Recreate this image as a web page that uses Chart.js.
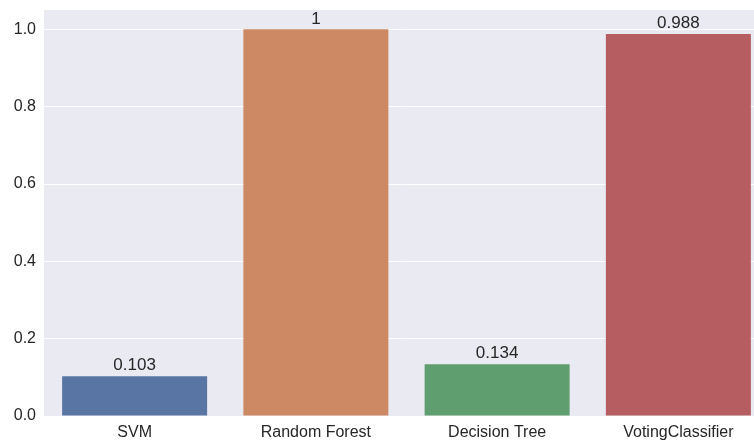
<!DOCTYPE html>
<html>
<head>
<meta charset="utf-8">
<script src="https://cdn.jsdelivr.net/npm/chart.js@4"></script>
<style>
    html, body { margin: 0; padding: 0; background: #ffffff; overflow: hidden; }
    #wrap { width: 770px; height: 444px; }
</style>
</head>
<body>
<div id="wrap"><canvas id="scoreChart" width="770" height="444"></canvas></div>
<script>
const models = ['SVM', 'Random Forest', 'Decision Tree', 'VotingClassifier'];
const scores = [0.103, 1, 0.134, 0.988];
const scoreLabels = ['0.103', '1', '0.134', '0.988'];
const barColors = ['#5975a4', '#cc8963', '#5f9e6e', '#b55d60'];
const yTicks = [0, 0.2, 0.4, 0.6, 0.8, 1.0];

const fontFamily = "'Liberation Sans', Arial, sans-serif";
const textColor = '#262626';

// seaborn-like grey panel behind the bars
const panelBackground = {
    id: 'panelBackground',
    beforeDraw(chart) {
        const { ctx, chartArea } = chart;
        ctx.save();
        ctx.fillStyle = '#eaeaf2';
        ctx.fillRect(chartArea.left, chartArea.top, chartArea.right - chartArea.left, chartArea.bottom - chartArea.top);
        ctx.restore();
    }
};

// value written above each bar
const barValues = {
    id: 'barValues',
    afterDatasetsDraw(chart) {
        const { ctx } = chart;
        const meta = chart.getDatasetMeta(0);
        ctx.save();
        ctx.font = '17px ' + fontFamily;
        ctx.fillStyle = textColor;
        ctx.textAlign = 'center';
        ctx.textBaseline = 'bottom';
        meta.data.forEach((bar, i) => {
            ctx.fillText(scoreLabels[i], bar.x, bar.y - 2);
        });
        ctx.restore();
    }
};

new Chart(document.getElementById('scoreChart'), {
    type: 'bar',
    data: {
        labels: models,
        datasets: [{
            data: scores,
            backgroundColor: barColors,
            borderWidth: 0,
            categoryPercentage: 0.8,
            barPercentage: 1.0,
        }]
    },
    options: {
        responsive: false,
        animation: false,
        layout: { padding: { top: 10, right: 1, left: 0, bottom: 0 } },
        plugins: {
            legend: { display: false },
            tooltip: { enabled: false },
        },
        scales: {
            x: {
                grid: { display: false, drawTicks: false },
                border: { display: false },
                ticks: {
                    color: textColor,
                    padding: 7,
                    font: { family: fontFamily, size: 16 },
                },
                afterFit(scale) {
                    scale.height = 28;
                    scale.paddingLeft = 0;
                    scale.paddingRight = 0;
                },
            },
            y: {
                min: 0,
                max: 1.05,
                grid: { color: '#ffffff', lineWidth: 1, drawTicks: false },
                border: { display: false },
                ticks: {
                    color: textColor,
                    padding: 8,
                    font: { family: fontFamily, size: 16 },
                    callback: (v) => v.toFixed(1),
                },
                afterBuildTicks(scale) {
                    scale.ticks = yTicks.map(v => ({ value: v }));
                },
                afterFit(scale) {
                    scale.width = 44;
                    scale.paddingTop = 0;
                    scale.paddingBottom = 0;
                },
            }
        }
    },
    plugins: [panelBackground, barValues]
});
</script>
</body>
</html>
